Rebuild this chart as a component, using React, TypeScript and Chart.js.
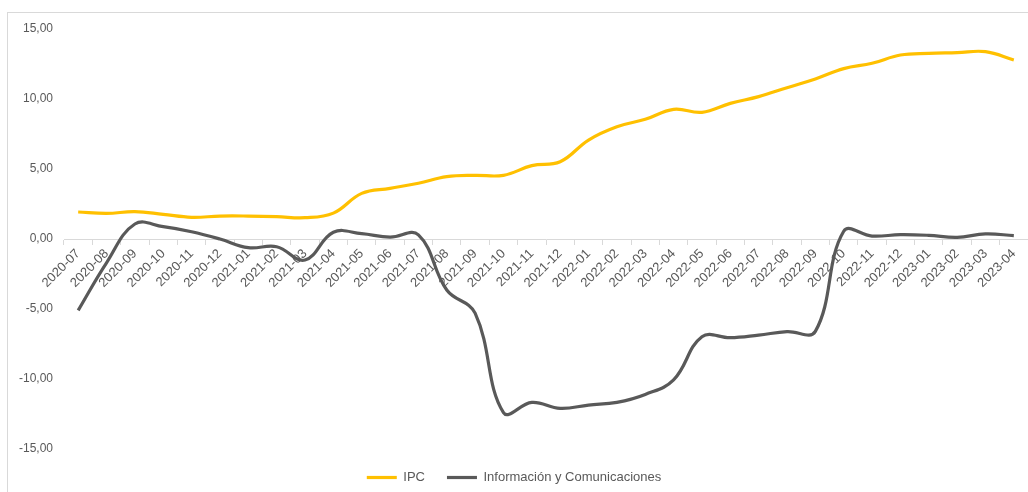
import React, { useEffect, useRef } from "react";
import { Chart, registerables } from "chart.js";

Chart.register(...registerables);

const months = [
  "2020-07", "2020-08", "2020-09", "2020-10", "2020-11", "2020-12",
  "2021-01", "2021-02", "2021-03", "2021-04", "2021-05", "2021-06",
  "2021-07", "2021-08", "2021-09", "2021-10", "2021-11", "2021-12",
  "2022-01", "2022-02", "2022-03", "2022-04", "2022-05", "2022-06",
  "2022-07", "2022-08", "2022-09", "2022-10", "2022-11", "2022-12",
  "2023-01", "2023-02", "2023-03", "2023-04",
];

const ipc = [
  1.93, 1.83, 1.95, 1.76, 1.55, 1.64, 1.64, 1.6, 1.52, 1.85, 3.26, 3.62,
  3.98, 4.45, 4.55, 4.55, 5.24, 5.52, 7.07, 8.02, 8.55, 9.26, 9.05, 9.69,
  10.17, 10.81, 11.43, 12.17, 12.55, 13.14, 13.26, 13.31, 13.38, 12.79,
];

const infoCom = [
  -5.1, -1.7, 1.07, 0.88, 0.52, 0.0, -0.62, -0.55, -1.5, 0.48, 0.38, 0.14,
  0.3, -3.64, -5.3, -12.4, -11.67, -12.1, -11.86, -11.67, -11.1, -10.07, -6.98, -7.05,
  -6.86, -6.62, -6.6, 0.55, 0.21, 0.31, 0.26, 0.12, 0.36, 0.24,
];

const yTicks = [-15, -10, -5, 0, 5, 10, 15];

const seriesNames = ["IPC", "Información y Comunicaciones"];
const seriesColors = ["#FFC000", "#595959"];

const FONT = "'Liberation Sans', Arial, sans-serif";
const TEXT = "#595959";

export default function App() {
  const ref = useRef<HTMLCanvasElement | null>(null);

  useEffect(() => {
    if (!ref.current) return;
    const chart = new Chart(ref.current, {
      type: "line",
      data: {
        labels: months,
        datasets: [
          {
            label: seriesNames[0],
            data: ipc,
            borderColor: seriesColors[0],
            backgroundColor: seriesColors[0],
            borderWidth: 3.2,
            pointRadius: 0,
            tension: 0.4,
          },
          {
            label: seriesNames[1],
            data: infoCom,
            borderColor: seriesColors[1],
            backgroundColor: seriesColors[1],
            borderWidth: 3.2,
            pointRadius: 0,
            tension: 0.4,
          },
        ],
      },
      options: {
        animation: false,
        responsive: false,
        devicePixelRatio: 1,
        layout: { padding: { left: 0, top: 29, right: 28, bottom: 0 } },
        plugins: {
          legend: {
            position: "bottom",
            labels: {
              usePointStyle: true,
              pointStyle: "line",
              pointStyleWidth: 30,
              padding: 22,
              color: TEXT,
              font: { family: FONT, size: 13 },
            },
          },
          tooltip: { enabled: false },
        },
        scales: {
          x: {
            type: "category",
            position: { y: 0 },
            offset: true,
            grid: {
              offset: true,
              drawOnChartArea: false,
              drawTicks: true,
              tickLength: 5,
              color: "#d9d9d9",
            },
            border: { display: true, color: "#d9d9d9", width: 1 },
            ticks: {
              autoSkip: false,
              maxRotation: 45,
              minRotation: 45,
              padding: 2,
              color: TEXT,
              font: { family: FONT, size: 13 },
            },
          },
          y: {
            min: -15,
            max: 15,
            grid: { display: false, drawTicks: false },
            border: { display: false },
            afterFit: (scale: any) => {
              scale.width = 64;
            },
            afterBuildTicks: (scale: any) => {
              scale.ticks = yTicks.map((v) => ({ value: v }));
            },
            ticks: {
              padding: 11,
              color: TEXT,
              font: { family: FONT, size: 12 },
              callback: (v: any) => Number(v).toFixed(2).replace(".", ","),
            },
          },
        },
      },
    });
    return () => chart.destroy();
  }, []);

  return (
    <div
      style={{
        position: "absolute",
        left: 0,
        top: 0,
        width: 1028,
        height: 492,
        overflow: "hidden",
        background: "#fff",
      }}
    >
      <div
        style={{
          position: "absolute",
          left: 7,
          top: 12,
          width: 1100,
          height: 600,
          border: "1px solid #d9d9d9",
          boxSizing: "border-box",
        }}
      />
      <canvas
        ref={ref}
        width={1056}
        height={494}
        style={{ position: "absolute", left: 0, top: 0, width: 1056, height: 494, display: "block" }}
      />
    </div>
  );
}
